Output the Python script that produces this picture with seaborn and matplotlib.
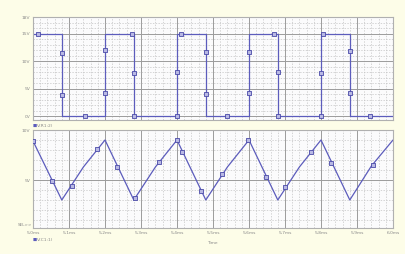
import numpy as np
import pandas as pd
import matplotlib
matplotlib.use("Agg")
import matplotlib.pyplot as plt
from matplotlib.ticker import MultipleLocator, FixedLocator
import seaborn as sns

# ---- data ----
pulse_t = [5.0, 5.08, 5.08, 5.2, 5.2, 5.28, 5.28, 5.4, 5.4, 5.48, 5.48, 5.6, 5.6, 5.68, 5.68, 5.8, 5.8, 5.88, 5.88, 6.0]
pulse_v = [15, 15, 0, 0, 15, 15, 0, 0, 15, 15, 0, 0, 15, 15, 0, 0, 15, 15, 0, 0]
pulse_mt = [5.014, 5.08, 5.08, 5.144, 5.2, 5.2, 5.275, 5.28, 5.28, 5.4, 5.4, 5.41, 5.48, 5.48, 5.54,
            5.6, 5.6, 5.67, 5.68, 5.68, 5.8, 5.8, 5.805, 5.88, 5.88, 5.936]
pulse_mv = [15, 11.4, 3.8, 0, 12, 4.2, 15, 7.8, 0, 0, 8, 15, 11.6, 4, 0,
            11.6, 4.2, 15, 8, 0, 0, 7.8, 15, 11.8, 4.2, 0]

tri_t = [5.0, 5.08, 5.14, 5.2, 5.28, 5.34, 5.4, 5.48, 5.54, 5.6, 5.68, 5.74, 5.8, 5.88, 5.94, 6.0]
tri_v = [8.9, 3.0, 6.3, 9.0, 3.0, 6.3, 9.0, 3.0, 6.3, 9.0, 3.0, 6.3, 9.0, 3.0, 6.4, 9.0]
tri_mt = [5.0, 5.053, 5.108, 5.178, 5.233, 5.283, 5.35, 5.4, 5.414, 5.467, 5.525, 5.597, 5.647, 5.7,
          5.772, 5.828, 5.944]
tri_mv = [8.9, 4.9, 4.4, 8.1, 6.3, 3.2, 6.8, 9.0, 7.8, 3.9, 5.6, 9.0, 5.3, 4.3, 7.8, 6.7, 6.5]

x_ticks = [5.0, 5.1, 5.2, 5.3, 5.4, 5.5, 5.6, 5.7, 5.8, 5.9, 6.0]
x_labels = ["5.0ms", "5.1ms", "5.2ms", "5.3ms", "5.4ms", "5.5ms", "5.6ms", "5.7ms", "5.8ms", "5.9ms", "6.0ms"]
top_ticks = [0, 5, 10, 15, 18]
top_labels = ["0V", "5V", "10V", "15V", "18V"]
bot_ticks = [0, 5, 10]
bot_labels = ["0V", "5V", "10V"]

# ---- style ----
sns.set_theme(style="white")
plt.rcParams['font.family'] = ['DejaVu Sans']
LINE = "#5c5cbc"
FIG_BG = "#fdfde8"
AX_BG = "#fbfbfc"
TXT = "#8a8a8a"

fig = plt.figure(figsize=(4.06, 2.54), dpi=100)
fig.patch.set_facecolor(FIG_BG)

ax1 = fig.add_axes([33/406, 1-120/254, 360/406, 103/254])
ax2 = fig.add_axes([33/406, 1-228/254, 360/406, 98/254])

def style_axis(ax, ylim, yticks, ylabels, yminor):
    ax.set_facecolor(AX_BG)
    ax.set_xlim(5.0, 6.0)
    ax.set_ylim(*ylim)
    ax.xaxis.set_major_locator(FixedLocator(x_ticks))
    ax.xaxis.set_minor_locator(MultipleLocator(0.02))
    ax.yaxis.set_major_locator(FixedLocator(yticks))
    ax.yaxis.set_minor_locator(MultipleLocator(yminor))
    ax.set_yticklabels(ylabels)
    ax.grid(which="major", color="#9c9c9c", linewidth=0.7, linestyle="-")
    ax.grid(which="minor", color="#c4c4c4", linewidth=0.5, linestyle=(0, (2, 2)))
    ax.set_axisbelow(True)
    for s in ax.spines.values():
        s.set_color("#b0b0b0")
        s.set_linewidth(0.8)
    ax.tick_params(axis="both", which="both", length=0, labelsize=3.2, labelcolor=TXT, pad=2)
    ax.set_xlabel("")
    ax.set_ylabel("")

# top: pulse
df_p = pd.DataFrame({"t": pulse_t, "v": pulse_v})
df_pm = pd.DataFrame({"t": pulse_mt, "v": pulse_mv})
sns.lineplot(data=df_p, x="t", y="v", ax=ax1, color=LINE, linewidth=0.9, estimator=None, sort=False)
sns.scatterplot(data=df_pm, x="t", y="v", ax=ax1, marker="s", s=7, linewidth=0.6,
                facecolor="#b8b8e4", edgecolor="#4a4aa8", zorder=5)
style_axis(ax1, (-0.7, 18), top_ticks, top_labels, 1)
ax1.set_xticklabels([])

# bottom: triangle
df_t = pd.DataFrame({"t": tri_t, "v": tri_v})
df_tm = pd.DataFrame({"t": tri_mt, "v": tri_mv})
sns.lineplot(data=df_t, x="t", y="v", ax=ax2, color=LINE, linewidth=0.9, estimator=None, sort=False)
sns.scatterplot(data=df_tm, x="t", y="v", ax=ax2, marker="s", s=7, linewidth=0.6,
                facecolor="#b8b8e4", edgecolor="#4a4aa8", zorder=5)
style_axis(ax2, (0.2, 10), bot_ticks, bot_labels, 1)
ax2.set_xticklabels(x_labels)

# legends / labels
fig.text(33/406, 1-126/254, "\u25a0", fontsize=3.2, color=LINE, va="center", ha="left")
fig.text(37/406, 1-126/254, "V(R1:2)", fontsize=3.2, color=TXT, va="center", ha="left")
fig.text(33/406, 1-240/254, "\u25a0", fontsize=3.2, color=LINE, va="center", ha="left")
fig.text(37/406, 1-240/254, "V(C1:1)", fontsize=3.2, color=TXT, va="center", ha="left")
fig.text(212/406, 1-243/254, "Time", fontsize=3.2, color=TXT, va="center", ha="center")
fig.text(18/406, 1-225/254, "SEL>>", fontsize=3.0, color=TXT, va="center", ha="left")

fig.savefig("out.png", dpi=100, facecolor=FIG_BG)
